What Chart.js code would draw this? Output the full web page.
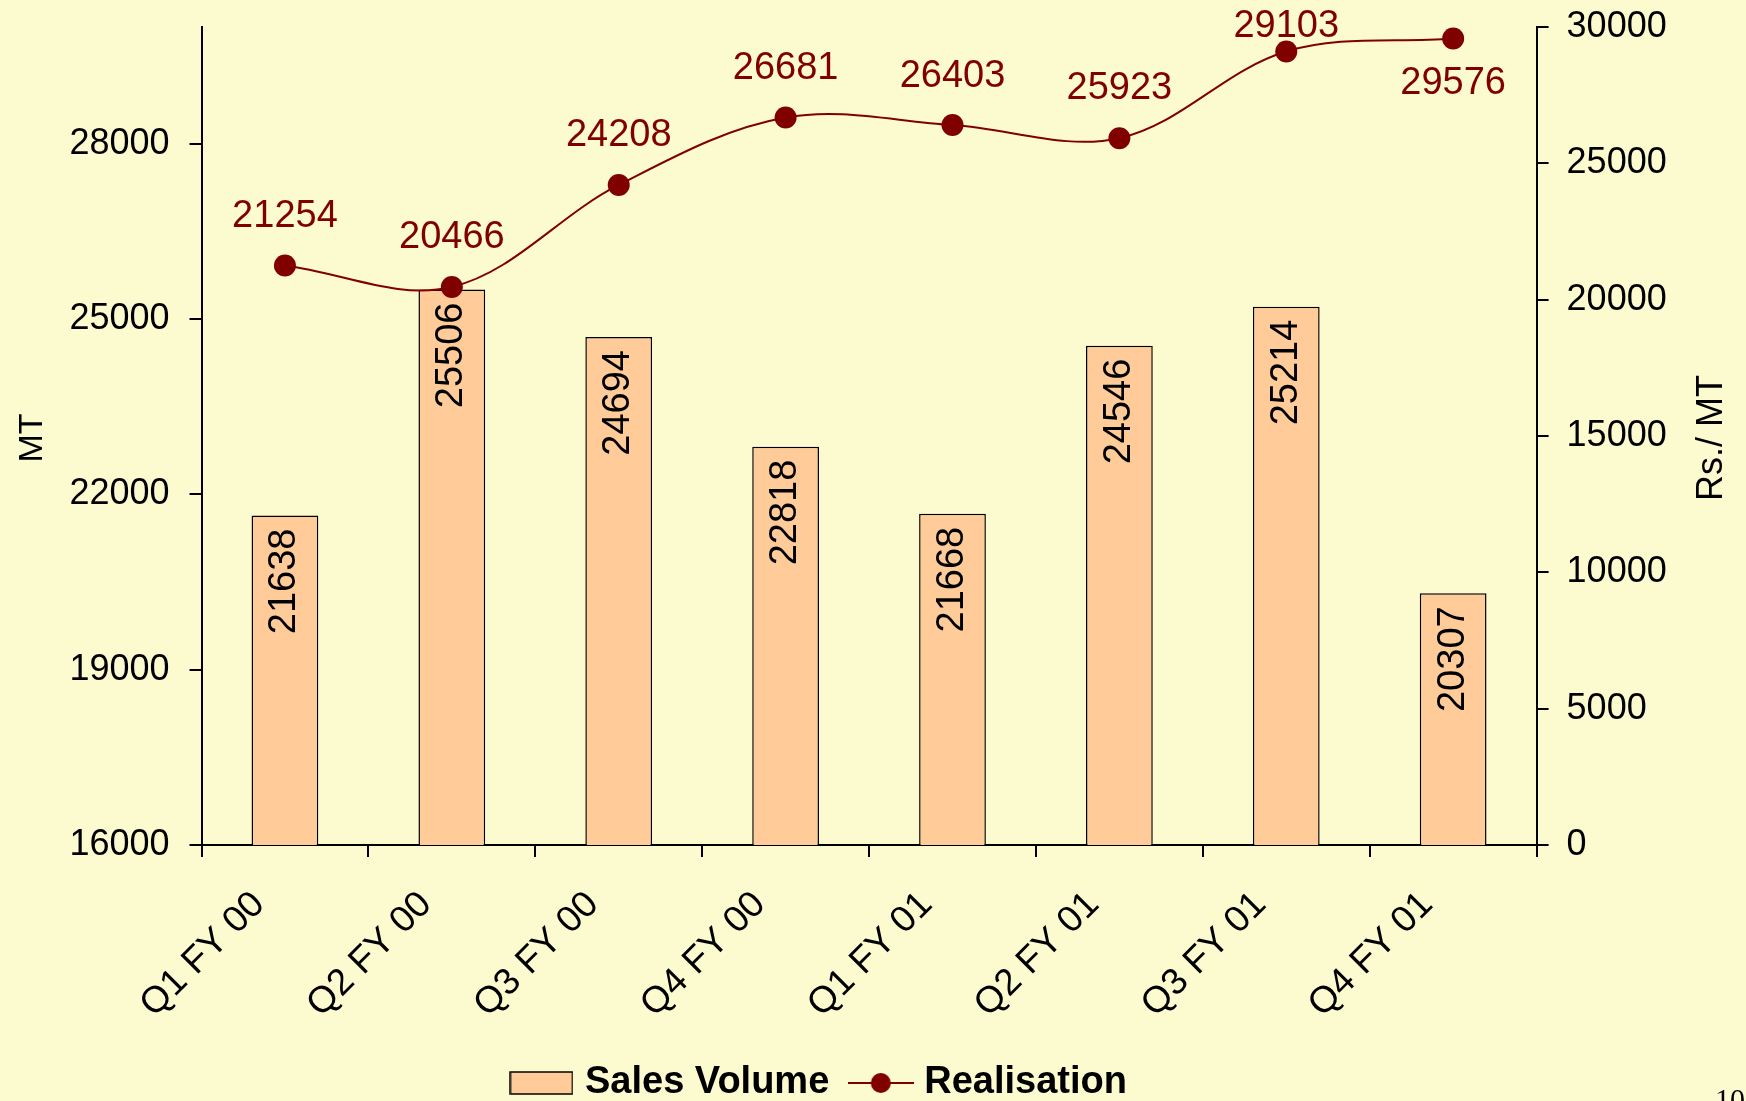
<!DOCTYPE html>
<html>
<head>
<meta charset="utf-8">
<script src="https://cdn.jsdelivr.net/npm/chart.js@4.4.1/dist/chart.umd.min.js"></script>
<style>
  html, body { margin: 0; padding: 0; background: #fcfbd0; overflow: hidden; }
  #wrap { width: 1746px; height: 1101px; overflow: hidden; background: #fcfbd0; }
</style>
</head>
<body>
<div id="wrap"><canvas id="chart" width="1746" height="1112"></canvas></div>
<script>
const quarters = ['Q1 FY 00', 'Q2 FY 00', 'Q3 FY 00', 'Q4 FY 00', 'Q1 FY 01', 'Q2 FY 01', 'Q3 FY 01', 'Q4 FY 01'];
const salesVolume = [21638, 25506, 24694, 22818, 21668, 24546, 25214, 20307];
const realisation = [21254, 20466, 24208, 26681, 26403, 25923, 29103, 29576];
const volumeTicks = [16000, 19000, 22000, 25000, 28000];
const realisationTicks = [0, 5000, 10000, 15000, 20000, 25000, 30000];

// where each realisation label sits relative to its point (px)
const realisationLabelShift = [-49, -49, -49, -49, -49, -50, -25, 45];

const FONT = '"Liberation Sans", Arial, sans-serif';
const PEACH = '#ffcc99';
const MAROON = '#800000';

Chart.defaults.font.family = FONT;

function makeBarIcon() {
  const c = document.createElement('canvas');
  c.width = 64; c.height = 24;
  const g = c.getContext('2d');
  g.fillStyle = PEACH;
  g.fillRect(1, 1, 62, 22);
  g.strokeStyle = '#000';
  g.lineWidth = 1.5;
  g.strokeRect(1, 1, 62, 22);
  return c;
}

function makeLineIcon() {
  const c = document.createElement('canvas');
  c.width = 66; c.height = 24;
  const g = c.getContext('2d');
  g.strokeStyle = MAROON;
  g.lineWidth = 2;
  g.beginPath();
  g.moveTo(0, 12);
  g.lineTo(66, 12);
  g.stroke();
  g.fillStyle = MAROON;
  g.beginPath();
  g.arc(33, 12, 10, 0, Math.PI * 2);
  g.fill();
  return c;
}

const barIcon = makeBarIcon();
const lineIcon = makeLineIcon();

// keep tick label overhang from pushing the plot area around
function noScalePadding(scale) {
  scale.paddingTop = 0;
  scale.paddingBottom = 0;
  scale.paddingLeft = 0;
  scale.paddingRight = 0;
}

const valueLabels = {
  id: 'valueLabels',
  afterLayout(chart) {
    // legend sits a little left of the page centre
    chart.legend.left -= 51;
    chart.legend.right -= 51;
  },
  afterDatasetDraw(chart, args) {
    if (args.index !== 0) return;
    const ctx = chart.ctx;
    ctx.save();
    ctx.font = '38px ' + FONT;
    ctx.fillStyle = '#000';
    ctx.textAlign = 'right';
    ctx.textBaseline = 'middle';
    args.meta.data.forEach((bar, i) => {
      ctx.save();
      ctx.translate(bar.x, bar.y + 13);
      ctx.rotate(-Math.PI / 2);
      ctx.fillText(String(salesVolume[i]), 0, 0);
      ctx.restore();
    });
    ctx.restore();
  },
  beforeDatasetDraw(chart, args) {
    if (args.index !== 1) return;
    const ctx = chart.ctx;
    ctx.save();
    ctx.font = '38px ' + FONT;
    ctx.fillStyle = MAROON;
    ctx.textAlign = 'center';
    ctx.textBaseline = 'middle';
    args.meta.data.forEach((pt, i) => {
      ctx.fillText(String(realisation[i]), pt.x, pt.y + realisationLabelShift[i]);
    });
    ctx.restore();
  },
  afterDraw(chart) {
    const ctx = chart.ctx;
    ctx.save();
    ctx.fillStyle = '#000';
    ctx.textAlign = 'center';
    ctx.textBaseline = 'middle';
    // axis titles, both read bottom to top
    [['MT', 33, 438, 34], ['Rs./ MT', 1712, 438, 36]].forEach(([t, x, y, s]) => {
      ctx.save();
      ctx.font = s + 'px ' + FONT;
      ctx.translate(x, y);
      ctx.rotate(-Math.PI / 2);
      ctx.fillText(t, 0, 0);
      ctx.restore();
    });
    // slide page number, mostly cut off
    ctx.font = '30px "Liberation Serif", "Times New Roman", serif';
    ctx.textAlign = 'left';
    ctx.textBaseline = 'alphabetic';
    ctx.fillText('10', 1715, 1109);
    ctx.restore();
  }
};

const yTickFont = { size: 36, family: FONT };

new Chart(document.getElementById('chart'), {
  type: 'bar',
  data: {
    labels: quarters,
    datasets: [
      {
        type: 'bar',
        label: 'Sales Volume',
        data: salesVolume,
        yAxisID: 'y',
        backgroundColor: PEACH,
        borderColor: '#000',
        borderWidth: 1.5,
        barPercentage: 0.4,
        categoryPercentage: 1,
        order: 1
      },
      {
        type: 'line',
        label: 'Realisation',
        data: realisation,
        yAxisID: 'y1',
        borderColor: MAROON,
        borderWidth: 2,
        tension: 0.35,
        pointRadius: 11,
        pointBackgroundColor: MAROON,
        pointBorderWidth: 0,
        order: 0
      }
    ]
  },
  options: {
    responsive: false,
    animation: false,
    layout: {
      padding: { top: 27, right: 0, bottom: 0, left: 0 }
    },
    scales: {
      x: {
        grid: { drawOnChartArea: false, offset: true, color: '#000', lineWidth: 2, tickLength: 12 },
        border: { color: '#000', width: 2 },
        ticks: {
          font: { size: 37, family: FONT },
          color: '#000',
          autoSkip: false,
          minRotation: 45,
          maxRotation: 45,
          padding: 26,
          labelOffset: -26
        },
        afterFit(scale) {
          noScalePadding(scale);
          scale.height = 192;
        }
      },
      y: {
        position: 'left',
        min: 16000,
        max: 30000,
        afterBuildTicks(axis) { axis.ticks = volumeTicks.map(v => ({ value: v })); },
        grid: { drawOnChartArea: false, color: '#000', lineWidth: 2, tickLength: 12 },
        border: { color: '#000', width: 2 },
        ticks: { font: yTickFont, color: '#000', padding: 20, callback: v => String(v) },
        afterFit(scale) {
          noScalePadding(scale);
          scale.width = 201.5;
        }
      },
      y1: {
        position: 'right',
        min: 0,
        max: 30000,
        afterBuildTicks(axis) { axis.ticks = realisationTicks.map(v => ({ value: v })); },
        grid: { drawOnChartArea: false, color: '#000', lineWidth: 2, tickLength: 12 },
        border: { color: '#000', width: 2 },
        ticks: { font: yTickFont, color: '#000', padding: 18, callback: v => String(v) },
        afterFit(scale) {
          noScalePadding(scale);
          scale.width = 209.4;
        }
      }
    },
    plugins: {
      tooltip: { enabled: false },
      legend: {
        position: 'bottom',
        labels: {
          font: { size: 38, weight: 'bold', family: FONT },
          color: '#000',
          usePointStyle: true,
          pointStyleWidth: 49,
          padding: 27,
          sort: (a, b) => a.datasetIndex - b.datasetIndex,
          generateLabels(chart) {
            const items = Chart.defaults.plugins.legend.labels.generateLabels(chart);
            items.forEach(item => {
              item.pointStyle = item.datasetIndex === 0 ? barIcon : lineIcon;
            });
            return items;
          }
        }
      }
    }
  },
  plugins: [valueLabels]
});
</script>
</body>
</html>
